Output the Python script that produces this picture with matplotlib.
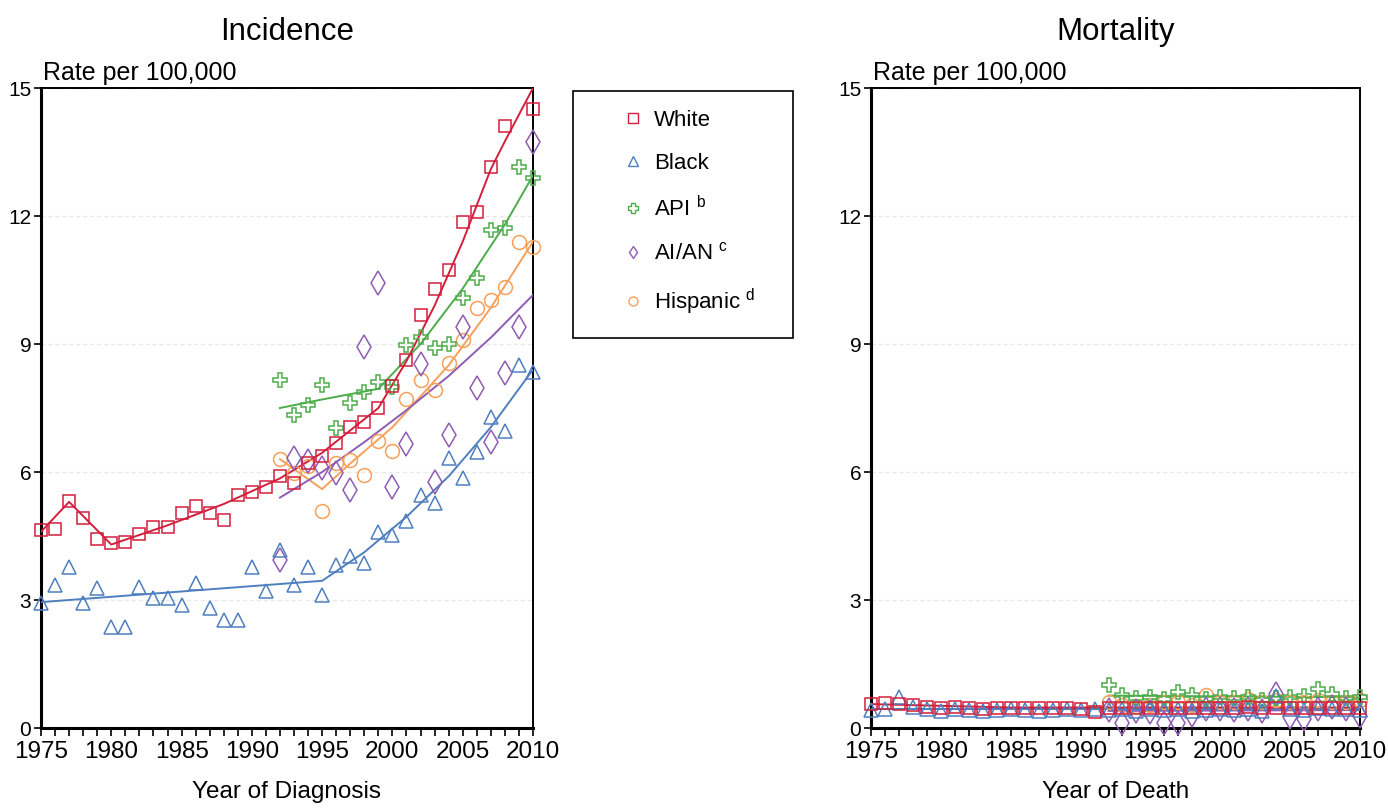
import numpy as np
import matplotlib.pyplot as plt
from matplotlib.lines import Line2D
from matplotlib.patches import Rectangle

plt.rcParams['font.family'] = ['Liberation Sans', 'DejaVu Sans']
plt.rcParams['mathtext.fontset'] = 'custom'
plt.rcParams['mathtext.rm'] = 'Liberation Sans'

# years of data
years = list(range(1975, 2011))
years_92 = list(range(1992, 2011))

# ---- incidence, observed rates ----
white_inc = [4.64, 4.66, 5.33, 4.93, 4.42, 4.33, 4.37, 4.55, 4.70, 4.70,
             5.05, 5.21, 5.03, 4.87, 5.45, 5.54, 5.66, 5.91, 5.74, 6.21,
             6.37, 6.67, 7.06, 7.18, 7.51, 8.02, 8.62, 9.68, 10.30, 10.73,
             11.86, 12.10, 13.15, 14.12, np.nan, 14.50]   # 2009 is off the top of the chart
black_inc = [2.92, 3.35, 3.78, 2.92, 3.27, 2.37, 2.37, 3.31, 3.04, 3.04,
             2.88, 3.39, 2.81, 2.53, 2.53, 3.78, 3.20, 4.17, 3.35, 3.78,
             3.12, 3.82, 4.02, 3.86, 4.60, 4.52, 4.86, 5.46, 5.27, 6.32,
             5.85, 6.48, 7.30, 6.95, 8.51, 8.35]
api_inc = [8.16, 7.34, 7.57, 8.04, 7.03, 7.62, 7.88, 8.12, 7.99, 8.98,
           9.17, 8.90, 9.01, 10.07, 10.54, 11.67, 11.73, 13.15, 12.88]
aian_inc = [3.94, 6.32, 6.25, 6.10, 5.98, 5.58, 8.92, 10.44, 5.64, 6.65,
            8.53, 5.77, 6.87, 9.41, 7.96, 6.71, 8.31, 9.41, 13.74]
hisp_inc = [6.30, 5.97, 6.15, 5.09, 6.20, 6.28, 5.93, 6.73, 6.50, 7.70,
            8.16, 7.92, 8.55, 9.10, 9.84, 10.04, 10.34, 11.39, 11.28]

# ---- incidence, joinpoint trend lines ----
white_trend_yr = [1975, 1977, 1980, 1984, 1988, 1992, 1995, 1999, 2001, 2003, 2005, 2007, 2008, 2010]
white_trend = [4.6, 5.3, 4.3, 4.75, 5.25, 5.85, 6.45, 7.5, 8.6, 9.9, 11.4, 13.1, 13.75, 15.0]
black_trend_yr = [1975, 1985, 1995, 1998, 2001, 2004, 2007, 2010]
black_trend = [2.95, 3.2, 3.45, 4.12, 4.95, 5.9, 7.05, 8.4]
api_trend_yr = [1992, 1995, 1999, 2002, 2005, 2008, 2010]
api_trend = [7.5, 7.7, 7.95, 9.0, 10.3, 11.8, 12.95]
aian_trend_yr = [1992, 1995, 1998, 2001, 2004, 2007, 2010]
aian_trend = [5.4, 6.0, 6.7, 7.45, 8.25, 9.15, 10.15]
hisp_trend_yr = [1992, 1995, 1997, 2000, 2004, 2007, 2010]
hisp_trend = [6.3, 5.6, 6.2, 7.05, 8.5, 9.85, 11.4]

# ---- mortality, observed rates ----
white_mort = [0.57, 0.58, 0.57, 0.55, 0.50, 0.48, 0.50, 0.47, 0.45, 0.47,
              0.48, 0.48, 0.47, 0.46, 0.47, 0.45, 0.38, 0.47, 0.48, 0.47,
              0.48, 0.46, 0.47, 0.46, 0.47, 0.48, 0.47, 0.49, 0.48, 0.46,
              0.48, 0.47, 0.48, 0.47, 0.48, 0.47]
black_mort = [0.42, 0.45, 0.72, 0.50, 0.45, 0.40, 0.45, 0.42, 0.40, 0.42,
              0.45, 0.43, 0.40, 0.42, 0.45, 0.42, 0.45, 0.42, 0.45, 0.40,
              0.45, 0.42, 0.45, 0.40, 0.43, 0.45, 0.42, 0.45, 0.40, 0.75,
              0.45, 0.42, 0.48, 0.45, 0.45, 0.42]
api_mort = [1.00, 0.78, 0.70, 0.72, 0.68, 0.85, 0.78, 0.68, 0.72, 0.70,
            0.72, 0.66, 0.70, 0.72, 0.75, 0.92, 0.80, 0.70, 0.72]
aian_mort = [0.42, 0.12, 0.40, 0.38, 0.12, 0.12, 0.30, 0.45, 0.45, 0.42,
             0.45, 0.40, 0.80, 0.25, 0.22, 0.45, 0.50, 0.45, 0.28]
hisp_mort = [0.62, 0.55, 0.52, 0.55, 0.60, 0.62, 0.55, 0.78, 0.62, 0.60,
             0.68, 0.62, 0.65, 0.60, 0.60, 0.65, 0.62, 0.60, 0.65]

white_mtrend_yr = [1975, 1985, 2010]
white_mtrend = [0.56, 0.48, 0.48]
black_mtrend_yr = [1975, 2010]
black_mtrend = [0.44, 0.44]
api_mtrend_yr = [1992, 2010]
api_mtrend = [0.76, 0.72]
aian_mtrend_yr = [1992, 2010]
aian_mtrend = [0.40, 0.42]
hisp_mtrend_yr = [1992, 2010]
hisp_mtrend = [0.58, 0.63]

labels = ['White', 'Black', r'API $^{\rm b}$', r'AI/AN $^{\rm c}$', r'Hispanic $^{\rm d}$']
colors = ['#d21f3c', '#4f7fbf', '#4dac4a', '#8e5cb4', '#f6a05a']
markers = ['s', '^', 'P', 'd', 'o']
msizes = [9, 10, 10.5, 12.5, 10]

inc_x = [years, years, years_92, years_92, years_92]
inc_y = [white_inc, black_inc, api_inc, aian_inc, hisp_inc]
inc_tx = [white_trend_yr, black_trend_yr, api_trend_yr, aian_trend_yr, hisp_trend_yr]
inc_ty = [white_trend, black_trend, api_trend, aian_trend, hisp_trend]
mort_y = [white_mort, black_mort, api_mort, aian_mort, hisp_mort]
mort_tx = [white_mtrend_yr, black_mtrend_yr, api_mtrend_yr, aian_mtrend_yr, hisp_mtrend_yr]
mort_ty = [white_mtrend, black_mtrend, api_mtrend, aian_mtrend, hisp_mtrend]

W, H = 1388, 808
fig = plt.figure(figsize=(W / 100, H / 100), dpi=100)
ax1 = fig.add_axes([41 / W, 80 / H, 492 / W, 640 / H])
ax2 = fig.add_axes([871 / W, 80 / H, 489 / W, 640 / H])


def draw_panel(ax, ys, tx, ty, title, xlabel):
    # draw White last so it sits on top
    for i in [4, 3, 2, 1, 0]:
        ax.plot(tx[i], ty[i], color=colors[i], lw=1.4, zorder=3)
        ax.plot(inc_x[i], ys[i], ls='none', marker=markers[i], ms=msizes[i],
                mfc='none', mec=colors[i], mew=1.1, clip_on=False, zorder=4)
    ax.set_xlim(1975, 2010)
    ax.set_ylim(0, 15)
    ax.set_yticks([0, 3, 6, 9, 12, 15])
    ax.set_xticks(range(1975, 2011, 5))
    ax.set_xticks(range(1975, 2011), minor=True)
    ax.tick_params(axis='y', direction='out', labelsize=15, length=5, width=1.2, pad=2)
    ax.tick_params(axis='x', which='both', direction='out', labelsize=17.5,
                   length=6, width=1.2, pad=3)
    ax.yaxis.grid(True, color='#e8e8e8', lw=1, ls=(0, (3, 2)))
    ax.set_axisbelow(True)
    for s in ['left', 'bottom']:
        ax.spines[s].set_linewidth(2.2)
    for s in ['top', 'right']:
        ax.spines[s].set_linewidth(1.4)
    ax.set_xlabel(xlabel, fontsize=17.5, labelpad=13)
    ax.text(0.5, 1 + 48 / 640, title, transform=ax.transAxes, ha='center',
            va='baseline', fontsize=22.5)
    ax.text(0.004, 1 + 8 / 640, 'Rate per 100,000', transform=ax.transAxes,
            ha='left', va='baseline', fontsize=18)


draw_panel(ax1, inc_y, inc_tx, inc_ty, 'Incidence', 'Year of Diagnosis')
draw_panel(ax2, mort_y, mort_tx, mort_ty, 'Mortality', 'Year of Death')

# legend in the middle, with a plain square box
handles = [Line2D([], [], ls='none', marker=markers[i], ms=6.5, mfc='none',
                  mec=colors[i], mew=1.0) for i in range(5)]
fig.legend(handles, labels, loc='upper left', bbox_to_anchor=(611 / W, 1 - 99 / H),
           frameon=False, borderpad=0, handlelength=1.0, handletextpad=0.45,
           labelspacing=0.98, fontsize=16)
fig.add_artist(Rectangle((573 / W, 1 - 338 / H), 220 / W, 247 / H,
                         transform=fig.transFigure, fill=False, ec='black', lw=1.2))

fig.savefig('out.png', dpi=100)
